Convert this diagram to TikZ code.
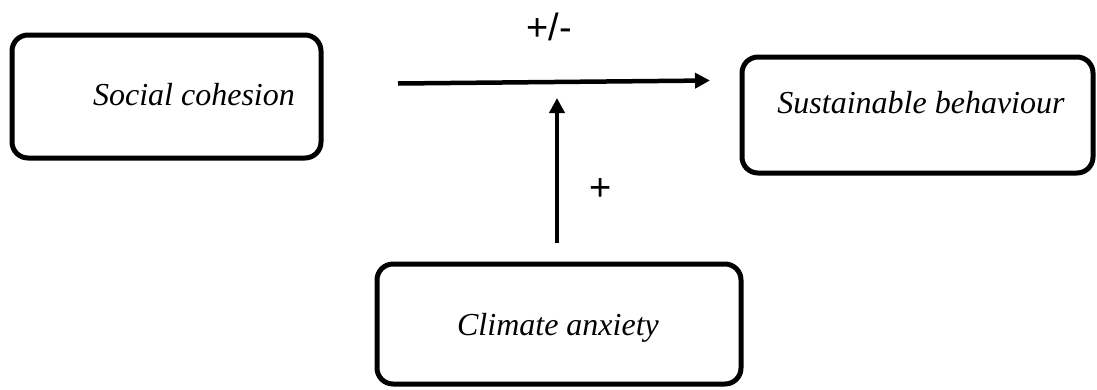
\documentclass[tikz,border=0pt]{standalone}
\usepackage{fontspec}
\setmainfont{Liberation Serif}
\newfontfamily\arial{Liberation Sans}
\usetikzlibrary{arrows.meta}
\tikzset{
  box/.style={draw=black, line width=5pt, rounded corners=16pt, fill=white, inner sep=0pt},
  lbl/.style={font=\fontsize{32}{36}\selectfont\itshape, inner sep=0pt},
  sign/.style={font=\arial\fontsize{38}{42}\selectfont, inner sep=0pt},
  link/.style={line width=4.5pt, -{Triangle[length=15pt,width=15pt]}}
}
\begin{document}
\begin{tikzpicture}[x=1pt,y=-1pt]
\useasboundingbox (0,0) rectangle (1097,389);
\node[box, minimum width=309pt, minimum height=123pt] (sc) at (166.5,96.5) {};
\node[box, minimum width=351pt, minimum height=116pt] (sb) at (917.5,115) {};
\node[box, minimum width=364pt, minimum height=120pt] (ca) at (559,324) {};
\node[lbl] (sct) at (194,95) {Social cohesion};
\node[lbl] (sbt) at (921,103) {Sustainable behaviour};
\node[lbl] (cat) at (558,328) {Climate anxiety};
\coordinate (h1) at (398,83.5);
\coordinate (h2) at (710,80.5);
\coordinate (v1) at (557,243);
\coordinate (v2) at (557,98);
\draw[link] (h1) -- (h2);
\draw[link] (v1) -- (v2);
\node[sign] (pm) at (549,27) {+/-};
\node[sign] (p) at (601,190) {+};
\end{tikzpicture}
\end{document}
